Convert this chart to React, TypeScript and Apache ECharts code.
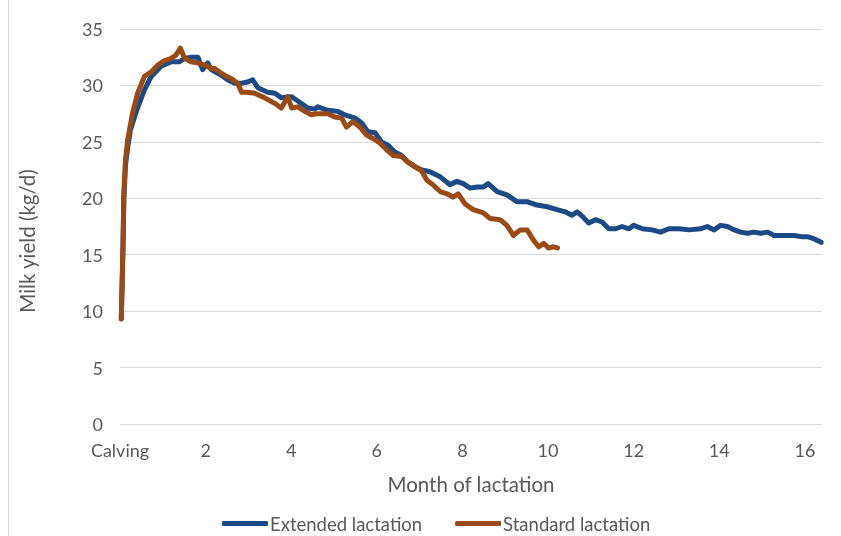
import React, { useEffect, useRef } from "react";
import * as echarts from "echarts";

const xTickLabels: Record<number, string> = { 0: "Calving", 2: "2", 4: "4", 6: "6", 8: "8", 10: "10", 12: "12", 14: "14", 16: "16" };

const extendedMonths = [
  0.03, 0.07, 0.09, 0.13, 0.18, 0.24, 0.38, 0.57, 0.73, 0.96, 1.2, 1.39, 1.51, 1.66, 1.82, 1.93, 2.05, 2.13,
  2.37, 2.51, 2.68, 2.84, 2.98, 3.1, 3.22, 3.45, 3.62, 3.77, 4.01, 4.24, 4.39, 4.55, 4.62, 4.86, 5.09, 5.25,
  5.49, 5.64, 5.79, 5.96, 6.11, 6.26, 6.42, 6.58, 6.73, 6.89, 7.05, 7.24, 7.48, 7.71, 7.87, 8.02, 8.18, 8.34,
  8.49, 8.6, 8.81, 9.04, 9.27, 9.51, 9.74, 9.98, 10.21, 10.4, 10.56, 10.68, 10.8, 10.95, 11.11, 11.26, 11.42,
  11.58, 11.73, 11.89, 12.0, 12.2, 12.43, 12.63, 12.82, 13.06, 13.29, 13.57, 13.72, 13.88, 14.03, 14.19, 14.35,
  14.5, 14.66, 14.81, 14.97, 15.13, 15.28, 15.44, 15.6, 15.75, 15.91, 16.06, 16.22, 16.38,
];
const extendedYield = [
  9.3, 15.5, 20, 23, 24.5, 26, 27.7, 29.6, 30.8, 31.7, 32.1, 32.1, 32.4, 32.5, 32.5, 31.4, 32.0, 31.4,
  30.9, 30.5, 30.2, 30.2, 30.3, 30.5, 29.8, 29.4, 29.3, 28.9, 29.0, 28.4, 28.0, 27.9, 28.1, 27.8, 27.7, 27.4,
  27.1, 26.7, 25.9, 25.8, 25.0, 24.7, 24.1, 23.8, 23.2, 22.8, 22.5, 22.35, 21.9, 21.2, 21.5, 21.3, 20.9, 21.0,
  21.0, 21.3, 20.6, 20.3, 19.7, 19.7, 19.4, 19.25, 19.0, 18.8, 18.5, 18.8, 18.4, 17.8, 18.1, 17.9, 17.3,
  17.3, 17.5, 17.3, 17.6, 17.3, 17.2, 17.0, 17.3, 17.3, 17.2, 17.3, 17.5, 17.2, 17.6, 17.5, 17.2,
  17.0, 16.9, 17.0, 16.9, 17.0, 16.7, 16.7, 16.7, 16.7, 16.6, 16.6, 16.4, 16.1,
];

const standardMonths = [
  0.03, 0.07, 0.09, 0.13, 0.18, 0.29, 0.41, 0.57, 0.73, 0.88, 1.04, 1.2, 1.31, 1.41, 1.51, 1.66, 1.81, 1.98,
  2.13, 2.21, 2.44, 2.6, 2.75, 2.84, 2.98, 3.15, 3.38, 3.62, 3.77, 3.92, 4.01, 4.15, 4.32, 4.47, 4.62, 4.86,
  5.02, 5.18, 5.29, 5.44, 5.61, 5.76, 5.91, 6.07, 6.23, 6.38, 6.58, 6.73, 6.89, 7.05, 7.17, 7.31, 7.48, 7.64,
  7.78, 7.9, 8.06, 8.25, 8.49, 8.65, 8.88, 9.04, 9.19, 9.35, 9.51, 9.66, 9.78, 9.9, 10.01, 10.13, 10.22,
];
const standardYield = [
  9.3, 16, 20.5, 23.5, 25.2, 27.5, 29.3, 30.8, 31.2, 31.8, 32.2, 32.4, 32.7, 33.3, 32.4, 32.1, 32.0, 31.8,
  31.5, 31.5, 30.9, 30.6, 30.2, 29.4, 29.4, 29.3, 28.9, 28.4, 28.0, 29.0, 28.0, 28.1, 27.7, 27.4, 27.5, 27.5,
  27.2, 27.1, 26.3, 26.8, 26.3, 25.6, 25.3, 24.9, 24.3, 23.8, 23.7, 23.2, 22.8, 22.4, 21.6, 21.2, 20.6, 20.4,
  20.1, 20.4, 19.5, 19.0, 18.7, 18.2, 18.1, 17.6, 16.7, 17.2, 17.2, 16.3, 15.7, 16.0, 15.6, 15.7, 15.6,
];

const FONT = "Lato, 'Open Sans', sans-serif";
const GREY = "#595959";
const GRID = "#D9D9D9";

export default function App() {
  const ref = useRef<HTMLDivElement>(null);
  useEffect(() => {
    if (!ref.current) return;
    const chart = echarts.init(ref.current, undefined, { renderer: "svg" });
    const ext = extendedMonths.map((m, i) => [m, extendedYield[i]]);
    const std = standardMonths.map((m, i) => [m, standardYield[i]]);
    chart.setOption({
      animation: false,
      textStyle: { fontFamily: FONT },
      grid: { left: 120, right: 19, top: 29, bottom: 112, containLabel: false },
      xAxis: {
        type: "value",
        min: 0,
        max: 16.4,
        interval: 2,
        name: "Month of lactation",
        nameLocation: "middle",
        nameGap: 49,
        nameTextStyle: { color: GREY, fontSize: 20.5, fontFamily: FONT },
        axisLine: { show: true, lineStyle: { color: GRID, width: 1 } },
        axisTick: { show: false },
        splitLine: { show: false },
        axisLabel: {
          color: GREY,
          fontSize: 18,
          fontFamily: FONT,
          margin: 17,
          showMaxLabel: false,
          formatter: (v: number) => (xTickLabels[v] !== undefined ? xTickLabels[v] : ""),
        },
      },
      yAxis: {
        type: "value",
        min: 0,
        max: 35,
        interval: 5,
        axisLine: { show: false },
        axisTick: { show: false },
        splitLine: { show: true, lineStyle: { color: GRID, width: 1 } },
        axisLabel: { color: GREY, fontSize: 18, fontFamily: FONT, margin: 17 },
      },
      legend: {
        bottom: -2,
        left: 217,
        itemWidth: 46,
        itemHeight: 5,
        itemGap: 33,
        icon: "roundRect",
        textStyle: { color: GREY, fontSize: 18.5, fontFamily: FONT, padding: [0, 0, 0, -3] },
        data: ["Extended lactation", "Standard lactation"],
      },
      graphic: [
        {
          type: "text",
          x: 27,
          y: 241,
          rotation: Math.PI / 2,
          style: {
            text: "Milk yield (kg/d)",
            fill: GREY,
            fontSize: 20.5,
            fontFamily: FONT,
            align: "center",
            verticalAlign: "middle",
          },
        },
        {
          type: "line",
          shape: { x1: 8.5, y1: 0, x2: 8.5, y2: 536 },
          style: { stroke: GRID, lineWidth: 1 },
        },
      ],
      series: [
        {
          name: "Extended lactation",
          type: "line",
          data: ext,
          showSymbol: false,
          symbol: "none",
          itemStyle: { color: "#1B4A84" },
          lineStyle: { color: "#1B4A84", width: 5, cap: "round", join: "round" },
        },
        {
          name: "Standard lactation",
          type: "line",
          data: std,
          showSymbol: false,
          symbol: "none",
          itemStyle: { color: "#9A4A14" },
          lineStyle: { color: "#9A4A14", width: 5, cap: "round", join: "round" },
        },
      ],
    });
    return () => chart.dispose();
  }, []);
  return <div ref={ref} style={{ position: "fixed", left: 0, top: 0, width: 841, height: 536 }} />;
}
